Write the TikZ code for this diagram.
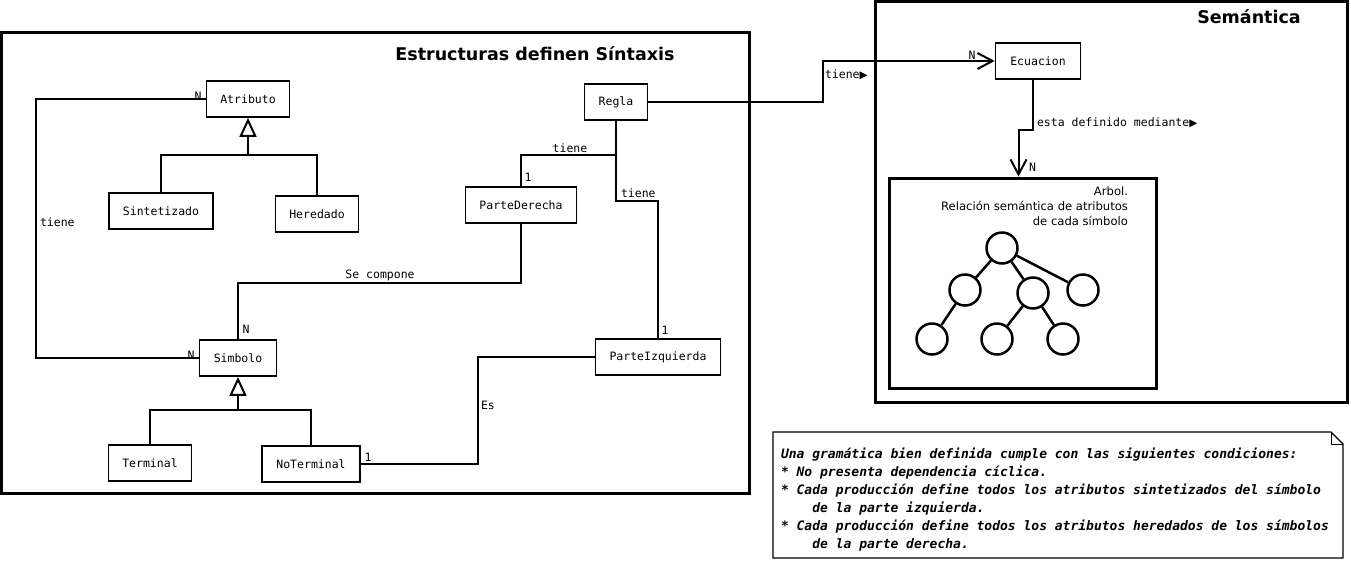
\documentclass[tikz,border=0pt]{standalone}
\usepackage{fontspec}
\setmainfont{DejaVu Sans}
\setsansfont{DejaVu Sans}
\setmonofont{DejaVu Sans Mono}
\usetikzlibrary{arrows.meta,calc,shapes}

\begin{document}
\begin{tikzpicture}[x=1pt,y=-1pt,line width=2pt,
  clase/.style={draw, line width=1.8pt, minimum height=36pt, inner sep=0pt, font=\fontsize{11.5}{13}\ttfamily},
  etiq/.style={font=\fontsize{11.5}{13}\ttfamily, inner sep=0pt},
  titulo/.style={font=\fontsize{17.5}{20}\sffamily\bfseries, inner sep=0pt},
  marco/.style={draw, line width=3pt},
  hereda/.style={-{Triangle[open,length=19pt,width=17pt]}},
  asoc/.style={-{Straight Barb[length=15pt,width=16pt]}},
  nodo/.style={circle, draw, line width=2.5pt, minimum size=31pt, inner sep=0pt}]
  \useasboundingbox (0,0) rectangle (1351,560);
  % marcos
  \draw[marco] (1,32) rectangle (749,493);
  \node[titulo, anchor=base] (tsint) at (535,60) {Estructuras definen Síntaxis};
  \draw[marco] (875,1) rectangle (1347,402);
  \node[titulo, anchor=base] (tsem) at (1249,23) {Semántica};
  % clases
  \node[clase, minimum width=83pt]  (atributo)    at (248,99)  {Atributo};
  \node[clase, minimum width=104pt] (sintetizado) at (161,211) {Sintetizado};
  \node[clase, minimum width=83pt]  (heredado)    at (317,214) {Heredado};
  \node[clase, minimum width=63pt]  (regla)       at (616,102) {Regla};
  \node[clase, minimum width=111pt] (pderecha)    at (521,205) {ParteDerecha};
  \node[clase, minimum width=77pt]  (simbolo)     at (238,358) {Simbolo};
  \node[clase, minimum width=83pt]  (terminal)    at (150,463) {Terminal};
  \node[clase, minimum width=98pt]  (noterminal)  at (311,464) {NoTerminal};
  \node[clase, minimum width=125pt] (pizquierda)  at (658,357) {ParteIzquierda};
  \node[clase, minimum width=85pt]  (ecuacion)    at (1038,61) {Ecuacion};
  % herencia
  \coordinate (hatr) at (248,155);
  \coordinate (hsim) at (238,410);
  \draw (sintetizado.north) |- (hatr) -| (heredado.north);
  \draw[hereda] (hatr) -- (atributo.south);
  \draw (terminal.north) |- (hsim) -| (noterminal.north);
  \draw[hereda] (hsim) -- (simbolo.south);
  % asociaciones
  \draw (atributo.west) -- ++(-170,0) |- (simbolo.west);
  \node[etiq, anchor=west] (l1) at (39,222) {tiene};
  \node[etiq, anchor=south east] (m1) at ([xshift=-3pt,yshift=-2pt]atributo.west) {N};
  \node[etiq, anchor=south east] (m2) at ([xshift=-3pt,yshift=-2pt]simbolo.west) {N};
  \draw (regla.south) -- ++(0,34) -| (pderecha.north);
  \node[etiq] (l2) at (570,148) {tiene};
  \node[etiq] (m3) at (528,177) {1};
  \draw (regla.south) -- ++(0,80) -| (pizquierda.north);
  \node[etiq, anchor=west] (l3) at (620,193) {tiene};
  \node[etiq] (m4) at (665,330) {1};
  \draw (pderecha.south) -- ++(0,59) -| (simbolo.north);
  \node[etiq] (l4) at (380,275) {Se compone};
  \node[etiq] (m5) at (246,329) {N};
  \draw (pizquierda.west) -- ++(-117,0) |- (noterminal.east);
  \node[etiq, anchor=west] (l5) at (480,405) {Es};
  \node[etiq] (m6) at (368,457) {1};
  \draw[asoc] (regla.east) -- ++(175,0) |- (ecuacion.west);
  \node[etiq, anchor=west] (l6) at (824,75) {tiene{\fontsize{10.5}{10}\sffamily ▶}};
  \node[etiq] (m7) at (972,55) {N};
  \node[draw, line width=3pt, minimum width=267pt, minimum height=210pt] (arbol) at (1022.5,283) {};
  \draw[asoc] ([xshift=-5pt]ecuacion.south) -- ++(0,50) -| ([xshift=-4pt]arbol.north);
  \node[etiq, anchor=west] (l7) at (1036,123) {esta definido mediante{\fontsize{10.5}{10}\sffamily ▶}};
  \node[etiq, anchor=west] (m8) at (1028,167) {N};
  % arbol
  \node[align=right, anchor=north east, inner sep=0pt, font=\fontsize{11.6}{15}\selectfont] (tarbol) at (1129,186)
    {Arbol.\\Relación semántica de atributos\\de cada símbolo};
  \foreach \n/\x/\y in {r/1002/248, a/965/290, b/1033/293, c/1083/290, d/932/339, e/997/339, f/1063/339}
    \node[nodo] (t\n) at (\x,\y) {};
  \path[line width=2.5pt] (tr) edge (ta) edge (tb) edge (tc)
    (ta) edge (td) (tb) edge (te) edge (tf);
  % nota
  \draw[line width=1.3pt] (773,432) -- (1331,432) -- (1343,444) -- (1343,558) -- (773,558) -- cycle;
  \draw[line width=1pt] (1331,432) -- (1331,444) -- (1343,444);
  \node[align=left, anchor=north west, inner sep=0pt, font=\fontsize{13}{18}\ttfamily\bfseries\itshape] (nota) at (780,447)
    {Una gramática bien definida cumple con las siguientes condiciones:\\
     * No presenta dependencia cíclica.\\
     * Cada producción define todos los atributos sintetizados del símbolo\\
     \phantom{****}de la parte izquierda.\\
     * Cada producción define todos los atributos heredados de los símbolos\\
     \phantom{****}de la parte derecha.};
\end{tikzpicture}
\end{document}
